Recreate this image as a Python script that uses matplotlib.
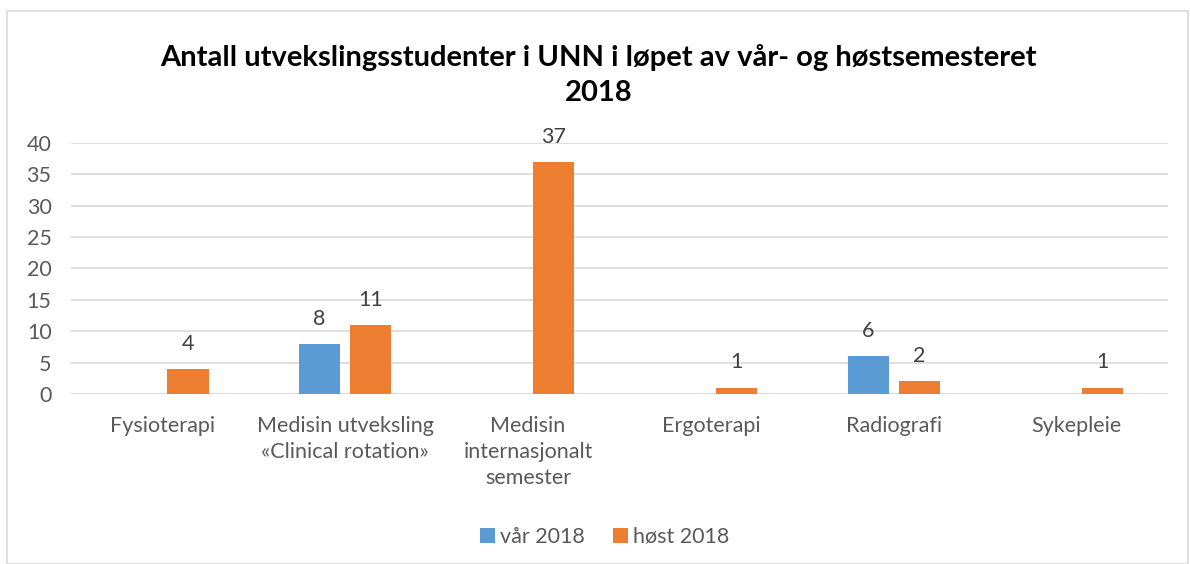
import matplotlib
matplotlib.use("Agg")
import matplotlib.pyplot as plt
import numpy as np
from matplotlib.patches import Rectangle

# chart data
categories = ["Fysioterapi", "Medisin utveksling\n«Clinical rotation»",
              "Medisin\ninternasjonalt\nsemester", "Ergoterapi", "Radiografi", "Sykepleie"]
var_2018 = [0, 8, 0, 0, 6, 0]
host_2018 = [4, 11, 37, 1, 2, 1]
series_names = ["vår 2018", "høst 2018"]
y_ticks = [0, 5, 10, 15, 20, 25, 30, 35, 40]

plt.rcParams["font.family"] = ["Lato", "DejaVu Sans"]

BLUE = "#5B9BD5"
ORANGE = "#ED7D31"
TEXT = "#595959"

fig = plt.figure(figsize=(11.9, 5.64), dpi=100)
ax = fig.add_axes([0.0597, 0.3014, 0.9218, 0.4451])

x = np.arange(len(categories))
width = 0.225
offset = 0.14

bars_v = ax.bar(x - offset, var_2018, width, color=BLUE, label=series_names[0], zorder=3)
bars_h = ax.bar(x + offset, host_2018, width, color=ORANGE, label=series_names[1], zorder=3)

# value labels, only where there is a value
for bars, vals in ((bars_v, var_2018), (bars_h, host_2018)):
    for b, v in zip(bars, vals):
        if v == 0:
            continue
        ax.annotate(str(v), (b.get_x() + b.get_width() / 2, v),
                    xytext=(0, 11), textcoords="offset points",
                    ha="center", va="bottom", fontsize=15.5, color="#404040")

ax.set_xlim(-0.5, len(categories) - 0.5)
ax.set_ylim(0, 40)
ax.set_yticks(y_ticks)
ax.yaxis.grid(True, color="#D9D9D9", linewidth=1.2, zorder=0)
ax.set_axisbelow(True)
for s in ax.spines.values():
    s.set_visible(False)
ax.axhline(0, color="#D9D9D9", linewidth=1.2, zorder=2)
ax.tick_params(axis="both", length=0, labelsize=15.5, labelcolor=TEXT)
ax.tick_params(axis="y", pad=14)
ax.tick_params(axis="x", pad=16)
ax.set_xticks(x)
ax.set_xticklabels(categories, linespacing=1.38)

fig.text(0.503, 0.867, "Antall utvekslingsstudenter i UNN i løpet av vår- og høstsemesteret\n2018",
         ha="center", va="center", fontsize=21, fontweight="bold", color="black",
         linespacing=1.4)

fig.legend(loc="center", bbox_to_anchor=(0.508, 0.048), ncol=2, frameon=False,
           fontsize=15.5, labelcolor=TEXT, handlelength=0.7, handleheight=0.7,
           handletextpad=0.25, columnspacing=1.3)

# thin chart-area border
fig.add_artist(Rectangle((7 / 1190, 0.0), 1 - 9 / 1190, 1 - 11 / 564,
                         transform=fig.transFigure, fill=False,
                         edgecolor="#D9D9D9", linewidth=1.2))

fig.savefig("out.png", dpi=100)
